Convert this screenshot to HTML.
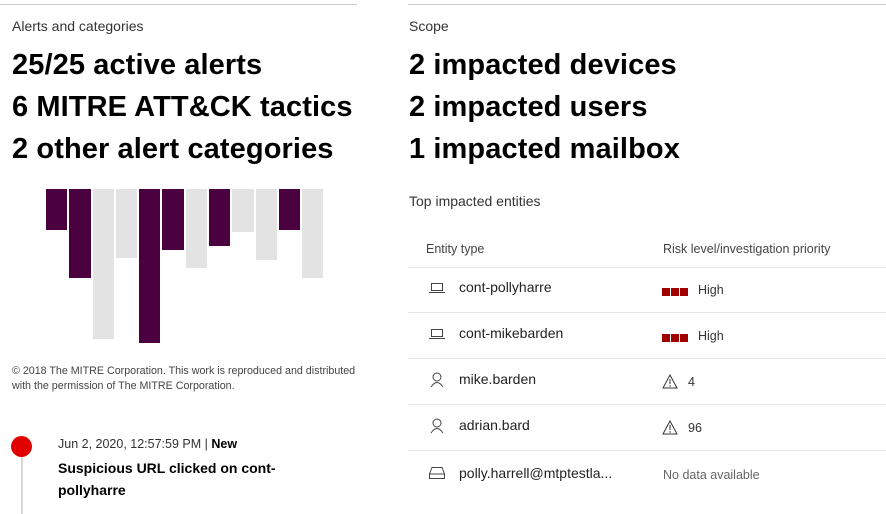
<!DOCTYPE html>
<html><head><style>
body{margin:0;width:886px;height:514px;background:#fff;font-family:"Liberation Sans",sans-serif;color:#000;position:relative;overflow:hidden}
.a{position:absolute;white-space:nowrap}
.sm{font-size:14px;color:#333}
.big{font-size:29px;font-weight:bold;line-height:42px;letter-spacing:0.1px}
.bar{position:absolute;top:189px}
.p{background:#4b003f}.g{background:#e3e3e3}
.hl{position:absolute;height:1px;background:#e8e8e8}
.rt{font-size:14px;color:#222}
.sq{display:inline-block;width:8px;height:8px;background:#a00000;margin-right:1px}
</style></head><body>
<div class="hl" style="left:0;top:4px;width:357px;background:#ccc"></div>
<div class="hl" style="left:408px;top:4px;width:478px;background:#ccc"></div>
<div class="a sm" style="left:12px;top:18px">Alerts and categories</div>
<div class="a sm" style="left:409px;top:18px">Scope</div>
<div class="a big" style="left:12px;top:44px">25/25 active alerts<br>6 MITRE ATT&amp;CK tactics<br>2 other alert categories</div>
<div class="a big" style="left:409px;top:44px">2 impacted devices<br>2 impacted users<br>1 impacted mailbox</div>

<div class="bar p" style="left:46px;width:21px;height:41px"></div>
<div class="bar p" style="left:69px;width:22px;height:89px"></div>
<div class="bar g" style="left:93px;width:21px;height:150px"></div>
<div class="bar g" style="left:116px;width:21px;height:69px"></div>
<div class="bar p" style="left:139px;width:21px;height:154px"></div>
<div class="bar p" style="left:162px;width:22px;height:61px"></div>
<div class="bar g" style="left:186px;width:21px;height:79px"></div>
<div class="bar p" style="left:209px;width:21px;height:57px"></div>
<div class="bar g" style="left:232px;width:22px;height:43px"></div>
<div class="bar g" style="left:256px;width:21px;height:71px"></div>
<div class="bar p" style="left:279px;width:21px;height:41px"></div>
<div class="bar g" style="left:302px;width:21px;height:89px"></div>

<div class="a" style="left:12px;top:364px;font-size:10.7px;line-height:15px;color:#444">© 2018 The MITRE Corporation. This work is reproduced and distributed<br>with the permission of The MITRE Corporation.</div>

<div class="a" style="left:11px;top:436px;width:21px;height:21px;border-radius:50%;background:#e00000"></div>
<div class="a" style="left:21px;top:457px;width:2px;height:57px;background:#d8d8d8"></div>
<div class="a" style="left:58px;top:437px;font-size:12.5px;color:#333">Jun 2, 2020, 12:57:59 PM | <b style="color:#000">New</b></div>
<div class="a" style="left:58px;top:457px;font-size:14px;font-weight:bold;line-height:22px">Suspicious URL clicked on cont-<br>pollyharre</div>

<div class="a sm" style="left:409px;top:193px">Top impacted entities</div>
<div class="a" style="left:426px;top:242px;font-size:12.5px;color:#444">Entity type</div>
<div class="a" style="left:663px;top:242px;font-size:12.5px;color:#444">Risk level/investigation priority</div>
<div class="hl" style="left:408px;top:267px;width:478px"></div>
<div class="hl" style="left:408px;top:312px;width:478px"></div>
<div class="hl" style="left:408px;top:358px;width:478px"></div>
<div class="hl" style="left:408px;top:404px;width:478px"></div>
<div class="hl" style="left:408px;top:450px;width:478px"></div>

<svg class="a" style="left:429px;top:282px" width="16" height="12"><rect x="2.5" y="1.5" width="11" height="7" fill="none" stroke="#444"/><line x1="0" y1="10.5" x2="16" y2="10.5" stroke="#444"/></svg>
<div class="a rt" style="left:459px;top:279px">cont-pollyharre</div>
<div class="a" style="left:662px;top:283px"><span class="sq"></span><span class="sq"></span><span class="sq"></span></div>
<div class="a" style="left:698px;top:283px;font-size:12.5px;color:#333">High</div>

<svg class="a" style="left:429px;top:328px" width="16" height="12"><rect x="2.5" y="1.5" width="11" height="7" fill="none" stroke="#444"/><line x1="0" y1="10.5" x2="16" y2="10.5" stroke="#444"/></svg>
<div class="a rt" style="left:459px;top:325px">cont-mikebarden</div>
<div class="a" style="left:662px;top:329px"><span class="sq"></span><span class="sq"></span><span class="sq"></span></div>
<div class="a" style="left:698px;top:329px;font-size:12.5px;color:#333">High</div>

<svg class="a" style="left:430px;top:372px" width="14" height="16"><circle cx="7" cy="5" r="4" fill="none" stroke="#444"/><path d="M1 15 Q7 6 13 15" fill="none" stroke="#444"/></svg>
<div class="a rt" style="left:459px;top:371px">mike.barden</div>
<svg class="a" style="left:662px;top:374px" width="16" height="15"><path d="M8 1 L15 14 L1 14 Z" fill="none" stroke="#333"/><line x1="8" y1="5" x2="8" y2="10" stroke="#333"/><circle cx="8" cy="12" r="0.7" fill="#333"/></svg>
<div class="a" style="left:688px;top:375px;font-size:12.5px;color:#333">4</div>

<svg class="a" style="left:430px;top:418px" width="14" height="16"><circle cx="7" cy="5" r="4" fill="none" stroke="#444"/><path d="M1 15 Q7 6 13 15" fill="none" stroke="#444"/></svg>
<div class="a rt" style="left:459px;top:417px">adrian.bard</div>
<svg class="a" style="left:662px;top:420px" width="16" height="15"><path d="M8 1 L15 14 L1 14 Z" fill="none" stroke="#333"/><line x1="8" y1="5" x2="8" y2="10" stroke="#333"/><circle cx="8" cy="12" r="0.7" fill="#333"/></svg>
<div class="a" style="left:688px;top:421px;font-size:12.5px;color:#333">96</div>

<svg class="a" style="left:429px;top:466px" width="16" height="13"><path d="M3 1.5 H13 L15.5 8 V12.5 H0.5 V8 Z M0.5 8 H15.5" fill="none" stroke="#444"/></svg>
<div class="a rt" style="left:459px;top:465px">polly.harrell@mtptestla...</div>
<div class="a" style="left:663px;top:468px;font-size:12.5px;color:#666">No data available</div>
</body></html>
